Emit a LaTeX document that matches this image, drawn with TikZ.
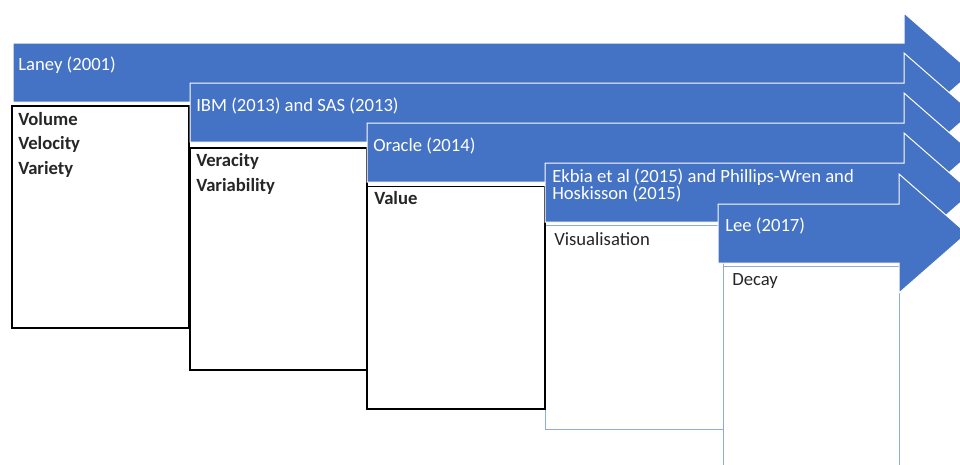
\documentclass[tikz,border=0pt]{standalone}
\usepackage{fontspec}
\setmainfont{Carlito}
\definecolor{bandblue}{HTML}{4472C4}
\definecolor{paleline}{HTML}{8FAADC}
\definecolor{inkgrey}{HTML}{262626}

\begin{document}
\begin{tikzpicture}
[x=0.75pt,y=-0.75pt,
 band/.style = {fill = bandblue, draw = white, line width = 0.75pt, line join = miter},
 bandtext/.style = {anchor = base west, inner sep = 0pt, text = white, font = \fontsize{14}{16}\selectfont},
 era/.style = {draw = black, line width = 1.5pt, fill = white},
 lateera/.style = {draw = paleline, line width = 0.75pt, fill = white},
 boxtext/.style = {anchor = base west, inner sep = 0pt, text = inkgrey, font = \fontsize{14}{16}\selectfont\bfseries},
 plaintext/.style = {anchor = base west, inner sep = 0pt, text = inkgrey, font = \fontsize{14}{16}\selectfont},]

\useasboundingbox (0,0) rectangle (960,464);
\clip (0,0) rectangle (960,464);

\def\shaft{59}
\def\flare{30}
\def\tiplen{68}

% boxes
\draw[era] (12,106) rectangle (189,328);
\draw[era] (190,148) rectangle (367,370);
\draw[era] (367,187) rectangle (545,409);
\draw[lateera] (545,225) rectangle (723,429);
\draw[lateera] (723,266) rectangle (899,480);
\draw[era] (367,187) -- (367,409) -- (545,409) -- (545,187);

% arrows
\foreach \x/\y/\h in {13/43/904, 190/83/904, 367/123/904, 545/163/904, 718/204/899}
  \fill[band] (\x,\y) -- (\h,\y) -- (\h,\y-\flare) -- (\h+\tiplen,\y+\shaft/2)
    -- (\h,\y+\shaft+\flare) -- (\h,\y+\shaft) -- (\x,\y+\shaft) -- cycle;

\node (laney) at (18,70)[bandtext] {Laney (2001)};
\node (ibm) at (196,111)[bandtext] {IBM (2013) and SAS (2013)};
\node (oracle) at (373,151)[bandtext] {Oracle (2014)};
\node (ekbia) at (552,182)[bandtext] {Ekbia et al (2015) and Phillips-Wren and};
\node (hoskisson) at (552,199.5)[bandtext] {Hoskisson (2015)};
\node (lee) at (725,231)[bandtext] {Lee (2017)};

\node (volume) at (18,125)[boxtext] {Volume};
\node (velocity) at (18,149.5)[boxtext] {Velocity};
\node (variety) at (18,174)[boxtext] {Variety};
\node (veracity) at (196,166)[boxtext] {Veracity};
\node (variability) at (196,191)[boxtext] {Variability};
\node (value) at (374,204)[boxtext] {Value};
\node (visual) at (554,245)[plaintext] {Visualisation};
\node (decay) at (732,285)[plaintext] {Decay};
\end{tikzpicture}
\end{document}
